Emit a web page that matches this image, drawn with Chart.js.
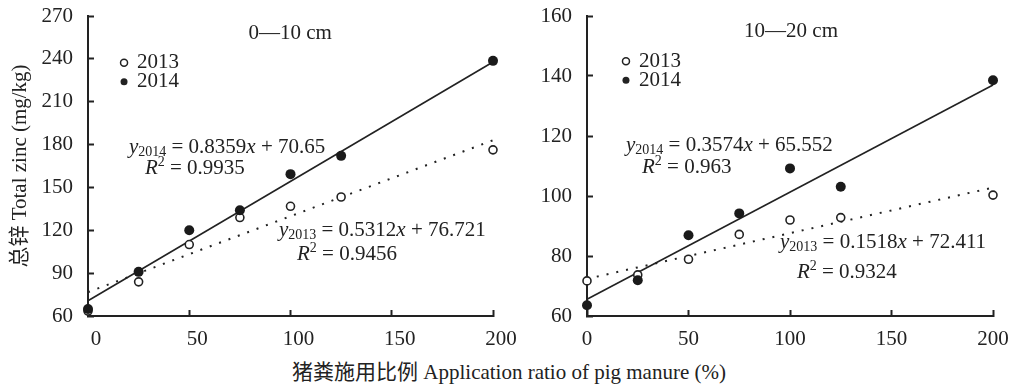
<!DOCTYPE html>
<html>
<head>
<meta charset="utf-8">
<script src="https://cdn.jsdelivr.net/npm/chart.js@4.4.1/dist/chart.umd.min.js"></script>
<style>
  html, body { margin: 0; padding: 0; background: #fff; }
  #wrap { position: relative; width: 1012px; height: 390px; overflow: hidden; }
  .box { position: absolute; top: 0; height: 345px; }
  #boxL { left: 0; width: 530px; }
  #boxR { left: 500px; width: 530px; }
  #xTitle {
    position: absolute; left: 0; top: 360px; width: 1018px; text-align: center;
    font: 21px 'Liberation Serif', 'Noto Sans CJK SC', serif; color: #222; line-height: 24px;
  }
</style>
</head>
<body>
<div id="wrap">
  <div class="box" id="boxL"><canvas id="chartTop"></canvas></div>
  <div class="box" id="boxR"><canvas id="chartSub"></canvas></div>
  <div id="xTitle">猪粪施用比例 Application ratio of pig manure (%)</div>
</div>
<script>
// ── Data ──────────────────────────────────────────────────
const RATIO = [0, 25, 50, 75, 100, 125, 200];          // pig manure ratio, %

const ZN_0_10_2013  = [63.5, 83.9, 110.0, 128.9, 136.8, 143.3, 176.3];
const ZN_0_10_2014  = [64.9, 90.9, 120.0, 134.0, 159.3, 172.1, 238.6];
const ZN_10_20_2013 = [71.7, 73.7, 78.9, 87.2, 92.0, 92.8, 100.3];
const ZN_10_20_2014 = [63.6, 71.9, 86.9, 94.2, 109.2, 103.1, 138.6];

// trend line end points (x = 0 and x = 200)
const FIT_X          = [0, 200];
const FIT_0_10_2013  = [76.7, 183.0];
const FIT_0_10_2014  = [70.7, 237.8];
const FIT_10_20_2013 = [72.4, 102.8];
const FIT_10_20_2014 = [65.6, 137.0];

const X_TICKS       = [0, 50, 100, 150, 200];
const Y_TICKS_0_10  = [60, 90, 120, 150, 180, 210, 240, 270];
const Y_TICKS_10_20 = [60, 80, 100, 120, 140, 160];

const YEARS = ['2013', '2014'];

// ── Shared styles ─────────────────────────────────────────
const SERIF = "'Liberation Serif', 'Noto Sans CJK SC', serif";
const INK   = '#222';
const FS    = 21;

const pts = (xs, ys) => xs.map((x, i) => ({ x, y: ys[i] }));

const eqParts = (year, slope, icpt) => [
  { t: 'y', it: true }, { t: year, sub: true },
  { t: ' = ' + slope }, { t: 'x', it: true }, { t: ' + ' + icpt },
];
const r2Parts = r2 => [{ t: 'R', it: true }, { t: '2', sup: true }, { t: ' = ' + r2 }];

function drawRich(ctx, parts, x, y) {
  let cx = x;
  parts.forEach(p => {
    const small = p.sub || p.sup;
    ctx.font = (p.it ? 'italic ' : '') + (small ? 14 : FS) + 'px ' + SERIF;
    ctx.fillText(p.t, cx, y + (p.sub ? 5 : p.sup ? -6 : 0));
    cx += ctx.measureText(p.t).width;
  });
}

// ── Panel text plugin: title, legend, equations ──────────
const panelText = {
  id: 'panelText',
  afterDatasetsDraw(chart, args, o) {
    const { ctx, scales: { x, y } } = chart;
    ctx.save();
    ctx.fillStyle = INK;
    ctx.strokeStyle = INK;
    ctx.textBaseline = 'middle';

    ctx.font = FS + 'px ' + SERIF;
    ctx.textAlign = 'center';
    ctx.fillText(o.title, x.getPixelForValue(o.titleAt[0]), y.getPixelForValue(o.titleAt[1]));
    ctx.textAlign = 'left';

    o.legend.forEach((row, i) => {
      const px = x.getPixelForValue(row.at[0]), py = y.getPixelForValue(row.at[1]);
      ctx.beginPath();
      ctx.arc(px, py, 3.5, 0, Math.PI * 2);
      if (i === 0) { ctx.fillStyle = '#fff'; ctx.fill(); ctx.lineWidth = 1.5; ctx.stroke(); }
      else { ctx.fillStyle = INK; ctx.fill(); }
      ctx.fillStyle = INK;
      ctx.font = FS + 'px ' + SERIF;
      ctx.fillText(YEARS[i], px + 13, py);
    });

    o.notes.forEach(n => {
      drawRich(ctx, n.parts, x.getPixelForValue(n.at[0]), y.getPixelForValue(n.at[1]));
    });
    ctx.restore();
  },
};

// ── Panel builder ─────────────────────────────────────────
function makePanel(canvasId, p) {
  const canvas = document.getElementById(canvasId);
  return new Chart(canvas, {
    data: {
      datasets: [
        {
          type: 'scatter', data: pts(RATIO, p.y2014), order: 0, clip: false,
          pointRadius: 5, pointBackgroundColor: '#1a1a1a', pointBorderWidth: 0,
        },
        {
          type: 'scatter', data: pts(RATIO, p.y2013), order: 1, clip: false,
          pointRadius: 4, pointBackgroundColor: '#fff', pointBorderColor: INK, pointBorderWidth: 1.6,
        },
        {
          type: 'line', data: pts(FIT_X, p.fit2014), order: 2, clip: false,
          borderColor: INK, borderWidth: 1.6, pointRadius: 0,
        },
        {
          type: 'line', data: pts(FIT_X, p.fit2013), order: 3, clip: false,
          borderColor: INK, borderWidth: 2, borderDash: [2, 8], pointRadius: 0,
        },
      ],
    },
    options: {
      responsive: true,
      maintainAspectRatio: false,
      animation: false,
      layout: { padding: { top: 16, right: 37, left: 0, bottom: 0 } },
      plugins: {
        legend: { display: false },
        tooltip: { enabled: false },
        panelText: p.text,
      },
      scales: {
        x: {
          type: 'linear', min: 0, max: 200,
          afterBuildTicks: s => { s.ticks = X_TICKS.map(v => ({ value: v })); },
          afterFit: s => { s.height = 29; s.paddingLeft = 0; s.paddingRight = 0; },
          grid: { drawOnChartArea: false, tickLength: -6, tickColor: INK, tickWidth: 2 },
          border: { display: true, color: INK, width: 2 },
          ticks: { color: INK, padding: 17, labelOffset: p.xLabelShift, font: { size: FS, family: SERIF } },
        },
        y: {
          type: 'linear', min: p.yTicks[0], max: p.yTicks[p.yTicks.length - 1],
          afterBuildTicks: s => { s.ticks = p.yTicks.map(v => ({ value: v })); },
          afterFit: s => { s.width = p.yWidth; s.paddingTop = 0; s.paddingBottom = 0; },
          grid: { drawOnChartArea: false, tickLength: -6, tickColor: INK, tickWidth: 2 },
          border: { display: true, color: INK, width: 2 },
          ticks: { color: INK, padding: 21, font: { size: FS, family: SERIF } },
          title: {
            display: !!p.yTitle, text: p.yTitle || '', color: INK,
            font: { size: FS, family: SERIF }, padding: { top: 8, bottom: 0 },
          },
        },
      },
    },
    plugins: [panelText],
  });
}

makePanel('chartTop', {
  y2013: ZN_0_10_2013, y2014: ZN_0_10_2014,
  fit2013: FIT_0_10_2013, fit2014: FIT_0_10_2014,
  yTicks: Y_TICKS_0_10, yWidth: 88, xLabelShift: 8,
  yTitle: '总锌 Total zinc (mg/kg)',
  text: {
    title: '0—10 cm', titleAt: [99.8, 258],
    legend: [{ at: [17.8, 237.2] }, { at: [17.8, 224] }],
    notes: [
      { parts: eqParts('2014', '0.8359', '70.65'), at: [20.2, 177.9] },
      { parts: r2Parts('0.9935'), at: [28.1, 163.3] },
      { parts: eqParts('2013', '0.5312', '76.721'), at: [94.3, 120] },
      { parts: r2Parts('0.9456'), at: [103.2, 103.3] },
    ],
  },
});

makePanel('chartSub', {
  y2013: ZN_10_20_2013, y2014: ZN_10_20_2014,
  fit2013: FIT_10_20_2013, fit2014: FIT_10_20_2014,
  yTicks: Y_TICKS_10_20, yWidth: 87, xLabelShift: 0,
  yTitle: null,
  text: {
    title: '10—20 cm', titleAt: [100.5, 154.9],
    legend: [{ at: [19.2, 144.9] }, { at: [19.2, 138.6] }],
    notes: [
      { parts: eqParts('2014', '0.3574', '65.552'), at: [19.2, 116.9] },
      { parts: r2Parts('0.963'), at: [27.1, 109.6] },
      { parts: eqParts('2013', '0.1518', '72.411'), at: [95.1, 84.6] },
      { parts: r2Parts('0.9324'), at: [103.4, 74.6] },
    ],
  },
});
</script>
</body>
</html>
